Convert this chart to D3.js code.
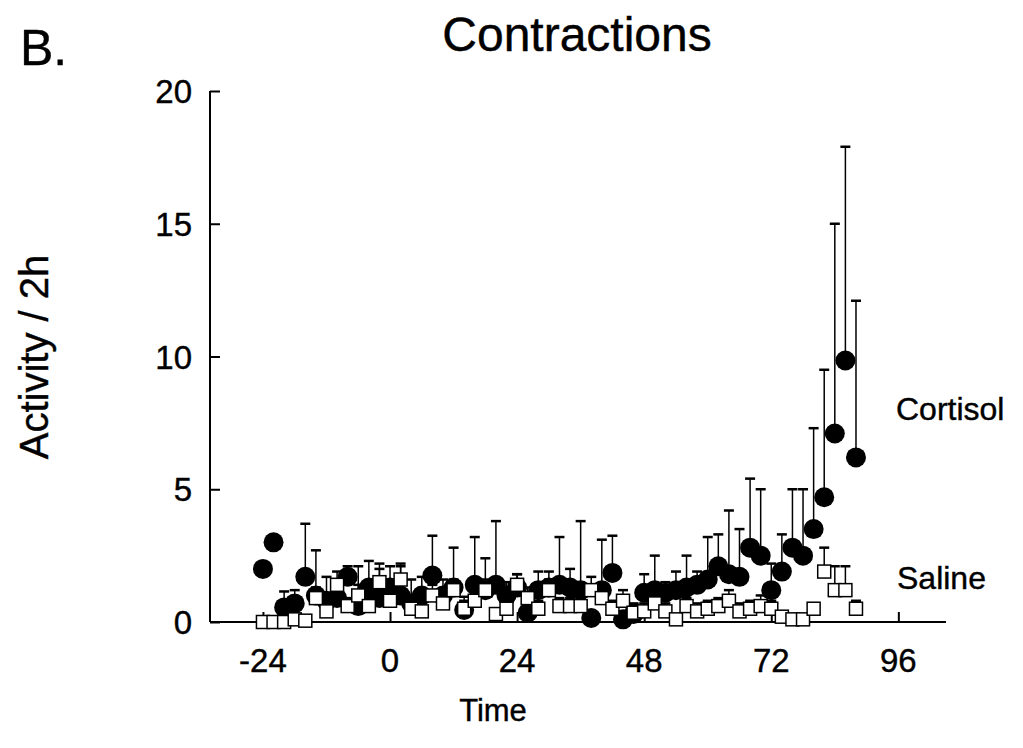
<!DOCTYPE html>
<html>
<head>
<meta charset="utf-8">
<script src="https://cdn.jsdelivr.net/npm/d3@7"></script>
<style>
  body { margin: 0; background: #fff; }
  text { font-family: "Liberation Sans", Arial, sans-serif; fill: #000; stroke: #000; stroke-width: 0.4; }
</style>
</head>
<body>
<div id="chart"></div>
<script>
// Time points (h), one every 2 h
const hours = d3.range(-24, 89, 2);

// Cortisol group: mean activity / 2h and upper error
const cortisolMean = [
  2.0, 3.0, 0.55, 0.7, 1.7, 1.0, 0.8, 0.9, 1.7, 0.6,
  1.3, 0.9, 1.3, 1.0, 0.7, 1.0, 1.75, 1.0, 1.3, 0.45,
  1.4, 1.2, 1.4, 1.0, 1.3, 0.35, 1.2, 1.3, 1.4, 1.3,
  1.2, 0.15, 1.2, 1.85, 0.1, 0.3, 1.1, 1.2, 1.1, 1.2,
  1.3, 1.4, 1.6, 2.1, 1.8, 1.7, 2.8, 2.5, 1.2, 1.9,
  2.8, 2.5, 3.5, 4.7, 7.1, 9.85, 6.2
];
const cortisolErr = [
  0, 0, 0.6, 0.5, 2.0, 1.7, 0.9, 0.5, 0.4, 1.5,
  1.0, 1.3, 0.8, 1.2, 0.9, 0.7, 1.5, 0.6, 1.5, 0.5,
  1.8, 1.2, 2.4, 0.5, 0.5, 0.3, 0.7, 0.6, 1.8, 0.7,
  2.6, 0.2, 1.9, 1.4, 0.1, 0.4, 0.7, 1.3, 0.4, 0.7,
  1.2, 0.5, 1.6, 1.2, 2.4, 1.8, 2.6, 2.5, 1.0, 1.4,
  2.2, 2.5, 3.8, 4.8, 7.9, 8.05, 5.9
];

// Saline group
const salineMean = [
  0, 0, 0, 0.1, 0.05, 0.9, 0.4, 1.4, 0.6, 1.0,
  0.6, 1.5, 0.8, 1.6, 0.5, 0.4, 1.0, 0.7, 1.2, 0.5,
  0.8, 1.2, 0.3, 0.5, 1.4, 0.9, 0.5, 1.2, 0.6, 0.6,
  0.6, 1.2, 0.9, 0.5, 0.8, 0.35, 0.4, 0.7, 0.4, 0.1,
  0.6, 0.4, 0.5, 0.6, 0.8, 0.4, 0.5, 0.6, 0.5, 0.2,
  0.1, 0.1, 0.5, 1.9, 1.2, 1.2, 0.5
];
const salineErr = [
  0, 0, 0, 0, 0.05, 0.4, 0.3, 0.5, 0.3, 0.4,
  0.3, 0.5, 0.4, 0.5, 0.3, 0.3, 0.4, 0.3, 0.4, 0.3,
  0.3, 0.4, 0.2, 0.3, 0.4, 0.4, 0.3, 0.4, 0.3, 0.3,
  0.3, 0.5, 0.4, 0.3, 0.4, 0.3, 0.3, 0.4, 0.3, 0.1,
  0.3, 0.3, 0.3, 0.3, 0.4, 0.3, 0.3, 0.4, 0.3, 0.2,
  0.1, 0.1, 0.2, 0.9, 0.9, 0.9, 0.3
];

const xTicks = [-24, 0, 24, 48, 72, 96];
const yTicks = [0, 5, 10, 15, 20];

const width = 1023;
const height = 748;

const svg = d3.select("#chart").append("svg")
  .attr("width", width)
  .attr("height", height);

const x = d3.scaleLinear().domain([-34, 105]).range([210, 946]);
const y = d3.scaleLinear().domain([0, 20]).range([622, 91]);

const cortisol = hours.map((h, i) => ({ t: h, v: cortisolMean[i], e: cortisolErr[i] }));
const saline = hours.map((h, i) => ({ t: h, v: salineMean[i], e: salineErr[i] }));

// Axes with inward ticks
const xAxis = svg.append("g")
  .attr("transform", `translate(0, ${y(0)})`)
  .call(d3.axisTop(x).tickValues(xTicks).tickSize(10).tickFormat(""));
xAxis.select(".domain").attr("d", `M${x.range()[0]},0H${x.range()[1]}`);

const yAxis = svg.append("g")
  .attr("transform", `translate(${x.range()[0]}, 0)`)
  .call(d3.axisRight(y).tickValues(yTicks).tickSize(10).tickFormat(""));
yAxis.select(".domain").attr("d", `M0,${y.range()[1]}V${y.range()[0]}`);

svg.selectAll(".domain, .tick line")
  .attr("stroke", "#000")
  .attr("stroke-width", 2);

// Tick labels
svg.append("g").selectAll("text")
  .data(xTicks)
  .join("text")
  .attr("x", d => x(d))
  .attr("y", 672)
  .attr("text-anchor", "middle")
  .attr("font-size", 33)
  .text(d => d);

svg.append("g").selectAll("text")
  .data(yTicks)
  .join("text")
  .attr("x", 192)
  .attr("y", d => y(d) + 12)
  .attr("text-anchor", "end")
  .attr("font-size", 33)
  .text(d => d);

// Error bars (upper only)
function errorBars(data) {
  const g = svg.append("g").attr("stroke", "#000").attr("stroke-width", 1.5);
  const withErr = data.filter(d => d.e > 0);
  g.selectAll("line.v")
    .data(withErr)
    .join("line")
    .attr("x1", d => x(d.t)).attr("x2", d => x(d.t))
    .attr("y1", d => y(d.v)).attr("y2", d => y(d.v + d.e));
  g.selectAll("line.c")
    .data(withErr)
    .join("line")
    .attr("x1", d => x(d.t) - 5).attr("x2", d => x(d.t) + 5)
    .attr("y1", d => y(d.v + d.e)).attr("y2", d => y(d.v + d.e))
    .attr("stroke-width", 2.5);
}

errorBars(cortisol);
svg.append("g").selectAll("circle")
  .data(cortisol)
  .join("circle")
  .attr("cx", d => x(d.t))
  .attr("cy", d => y(d.v))
  .attr("r", 10)
  .attr("fill", "#000");

errorBars(saline);
svg.append("g").selectAll("rect")
  .data(saline)
  .join("rect")
  .attr("x", d => x(d.t) - 6.5)
  .attr("y", d => y(d.v) - 6.5)
  .attr("width", 13)
  .attr("height", 13)
  .attr("fill", "#fff")
  .attr("stroke", "#000")
  .attr("stroke-width", 1.5);

// Series labels
svg.append("text").attr("x", 896).attr("y", 420).attr("font-size", 32).text("Cortisol");
svg.append("text").attr("x", 897).attr("y", 589).attr("font-size", 32).text("Saline");

// Titles
svg.append("text")
  .attr("x", 577).attr("y", 51)
  .attr("text-anchor", "middle")
  .attr("font-size", 48)
  .text("Contractions");

svg.append("text")
  .attr("x", 20).attr("y", 65)
  .attr("font-size", 50)
  .text("B.");

svg.append("text")
  .attr("x", 493).attr("y", 721)
  .attr("text-anchor", "middle")
  .attr("font-size", 31)
  .text("Time");

svg.append("text")
  .attr("transform", "translate(48, 357) rotate(-90)")
  .attr("text-anchor", "middle")
  .attr("font-size", 40)
  .text("Activity / 2h");
</script>
</body>
</html>
